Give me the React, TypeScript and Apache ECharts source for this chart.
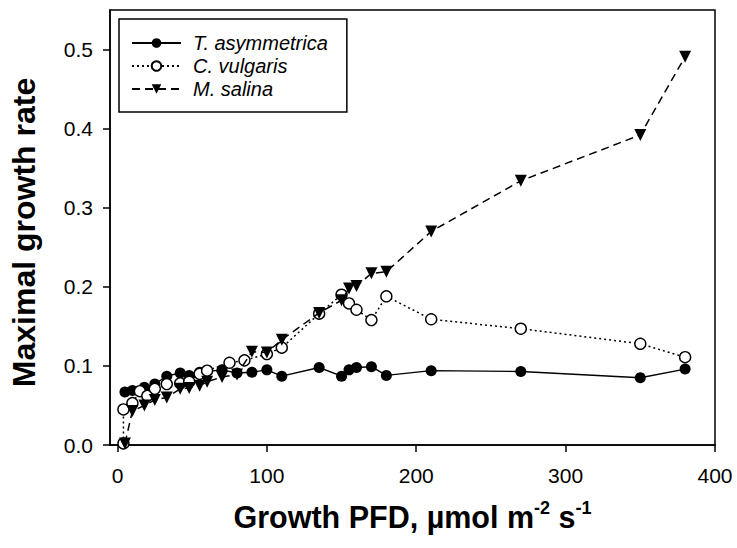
import React, { useEffect, useRef } from "react";
import * as echarts from "echarts";

const FONT = "'Liberation Sans', Arial, Helvetica, sans-serif";

const xTicks = [0, 100, 200, 300, 400];
const yTicks = [0, 0.1, 0.2, 0.3, 0.4, 0.5];

const seriesNames = ["T. asymmetrica", "C. vulgaris", "M. salina"];

const tAsymX = [5, 10, 18, 25, 33, 42, 48, 55, 70, 80, 90, 100, 110, 135, 150, 155, 160, 170, 180, 210, 270, 350, 380];
const tAsymY = [0.067, 0.069, 0.073, 0.077, 0.087, 0.091, 0.088, 0.092, 0.095, 0.091, 0.092, 0.095, 0.087, 0.098, 0.087, 0.095, 0.098, 0.099, 0.088, 0.094, 0.093, 0.085, 0.096];

const cVulgX = [4, 4, 10, 15, 20, 25, 33, 42, 48, 55, 60, 75, 85, 100, 110, 135, 150, 155, 160, 170, 180, 210, 270, 350, 380];
const cVulgY = [0.002, 0.045, 0.053, 0.068, 0.062, 0.071, 0.077, 0.078, 0.08, 0.09, 0.094, 0.104, 0.107, 0.115, 0.123, 0.166, 0.19, 0.179, 0.171, 0.158, 0.188, 0.159, 0.147, 0.128, 0.111];

const mSalX = [5, 10, 18, 25, 33, 42, 48, 55, 60, 70, 80, 90, 100, 110, 135, 150, 155, 160, 170, 180, 210, 270, 350, 380];
const mSalY = [0.002, 0.043, 0.05, 0.057, 0.06, 0.071, 0.072, 0.075, 0.08, 0.086, 0.089, 0.118, 0.117, 0.133, 0.167, 0.183, 0.198, 0.201, 0.217, 0.219, 0.27, 0.334, 0.392, 0.491];

const pairs = (xs: number[], ys: number[]) => xs.map((x, i) => [x, ys[i]]);

export default function App() {
  const ref = useRef<HTMLDivElement>(null);
  useEffect(() => {
    if (!ref.current) return;
    const chart = echarts.init(ref.current, undefined, { renderer: "svg" });
    const axisLine = { show: true, onZero: false, lineStyle: { color: "#000", width: 1.5 } };
    chart.setOption({
      animation: false,
      backgroundColor: "#fff",
      textStyle: { fontFamily: FONT },
      grid: {
        left: 110,
        right: 22,
        top: 10,
        bottom: 103,
        show: true,
        borderColor: "#000",
        borderWidth: 1.5,
        containLabel: false,
        outerBoundsMode: "none",
      },
      legend: {
        left: 119,
        top: 19,
        orient: "vertical",
        data: seriesNames,
        show: true,
        borderColor: "#000",
        borderWidth: 1.5,
        backgroundColor: "#fff",
        padding: [14, 19, 13, 12],
        itemWidth: 49,
        itemHeight: 12,
        itemGap: 3,
        textStyle: {
          fontFamily: FONT,
          fontSize: 20,
          fontStyle: "italic",
          color: "#000",
          lineHeight: 20,
          padding: [0, 0, 0, 7],
        },
      },
      xAxis: {
        type: "value",
        min: -5,
        max: 400,
        name: "Growth PFD, µmol m{sup|-2} s{sup|-1}",
        nameLocation: "middle",
        nameGap: 54,
        nameTextStyle: {
          fontFamily: FONT,
          fontSize: 30.5,
          fontWeight: "bold",
          color: "#000",
          lineHeight: 36,
          rich: {
            sup: { fontFamily: FONT, fontSize: 18, fontWeight: "bold", color: "#000", verticalAlign: "top", lineHeight: 18 },
          },
        },
        axisLine,
        axisTick: { show: true, inside: false, length: 7, customValues: xTicks, lineStyle: { color: "#000", width: 1.5 } },
        axisLabel: { customValues: xTicks, margin: 20, fontSize: 21, color: "#000", fontFamily: FONT },
        splitLine: { show: false },
      },
      yAxis: {
        type: "value",
        min: 0,
        max: 0.55,
        name: "Maximal growth rate",
        nameLocation: "middle",
        nameRotate: 90,
        nameGap: 70,
        nameTextStyle: { fontFamily: FONT, fontSize: 32, fontWeight: "bold", color: "#000", padding: [0, 10, 0, 0] },
        axisLine,
        axisTick: { show: true, inside: false, length: 7, customValues: yTicks, lineStyle: { color: "#000", width: 1.5 } },
        axisLabel: {
          customValues: yTicks,
          margin: 17,
          fontSize: 21,
          color: "#000",
          fontFamily: FONT,
          formatter: (v: number) => v.toFixed(1),
        },
        splitLine: { show: false },
      },
      series: [
        {
          name: seriesNames[0],
          type: "line",
          data: pairs(tAsymX, tAsymY),
          symbol: "circle",
          symbolSize: 11,
          itemStyle: { color: "#000" },
          lineStyle: { color: "#000", width: 1.4, type: "solid" },
          z: 2,
        },
        {
          name: seriesNames[1],
          type: "line",
          data: pairs(cVulgX, cVulgY),
          symbol: "circle",
          symbolSize: 11,
          itemStyle: { color: "#fff", borderColor: "#000", borderWidth: 1.4 },
          lineStyle: { color: "#000", width: 1.5, type: [2, 3] },
          z: 3,
        },
        {
          name: seriesNames[2],
          type: "line",
          data: pairs(mSalX, mSalY),
          symbol: "triangle",
          symbolRotate: 180,
          symbolSize: [12, 12],
          itemStyle: { color: "#000" },
          lineStyle: { color: "#000", width: 1.5, type: [8, 5] },
          z: 4,
        },
      ],
    });
    return () => chart.dispose();
  }, []);
  return (
    <div
      ref={ref}
      style={{ position: "fixed", left: 0, top: 0, width: 737, height: 548, background: "#fff" }}
    />
  );
}
